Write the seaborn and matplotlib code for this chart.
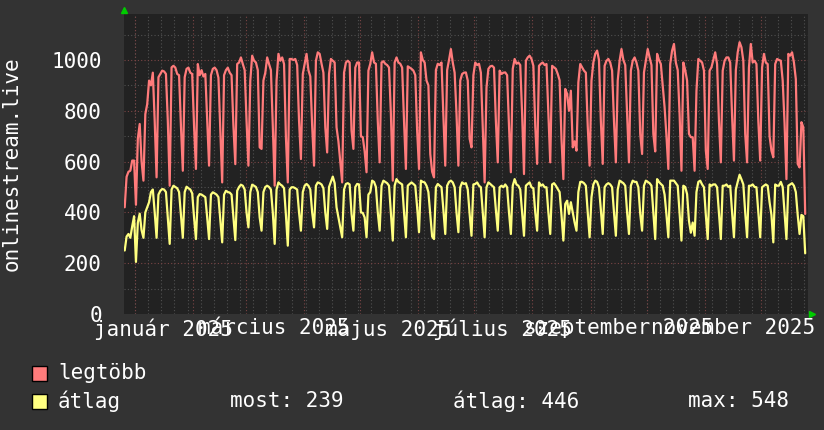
import pandas as pd
import matplotlib
matplotlib.use("Agg")
import matplotlib.pyplot as plt
import seaborn as sns

# daily values, 2024-12-26 .. 2025-12-24 (weeks run Mon..Sun)
legtobb = [
    420, 540, 560, 564,
    604, 604, 430, 690, 748, 600, 525,
    787, 826, 919, 900, 950, 760, 538,
    932, 945, 958, 955, 945, 760, 505,
    971, 977, 970, 945, 940, 740, 564,
    932, 965, 970, 950, 945, 740, 571,
    984, 940, 960, 935, 945, 760, 584,
    940, 965, 970, 960, 930, 720, 518,
    940, 960, 970, 950, 940, 740, 590,
    984, 990, 1010, 984, 960, 760, 584,
    919, 1017, 997, 990, 960, 656, 650,
    919, 950, 1010, 984, 960, 740, 505,
    919, 1024, 997, 1010, 984, 696, 518,
    1004, 1004, 1000, 1004, 980, 760, 610,
    945, 984, 1024, 960, 935, 740, 584,
    997, 1030, 1024, 985, 950, 735, 636,
    945, 1004, 997, 990, 735, 680, 600,
    518, 950, 990, 997, 990, 722, 650,
    970, 990, 990, 700, 696, 640, 558,
    958, 985, 1030, 990, 985, 760, 597,
    990, 995, 985, 980, 970, 787, 525,
    990, 1010, 990, 985, 970, 760, 571,
    975, 970, 965, 958, 940, 722, 571,
    1030, 1000, 990, 919, 900, 630, 560,
    538, 960, 985, 980, 990, 780, 584,
    960, 1000, 1043, 990, 950, 787, 584,
    919, 945, 950, 951, 919, 690, 656,
    940, 990, 980, 985, 950, 730, 518,
    892, 965, 975, 977, 970, 760, 597,
    958, 945, 950, 951, 940, 740, 558,
    965, 1004, 985, 990, 980, 787, 551,
    997, 1010, 1017, 1004, 977, 740, 591,
    977, 985, 990, 980, 984, 787, 597,
    977, 971, 965, 945, 920, 690, 531,
    886, 866, 800, 879, 656, 680, 643,
    912, 984, 971, 958, 950, 740, 584,
    919, 990, 1024, 1037, 1000, 760, 591,
    977, 997, 1004, 990, 958, 760, 597,
    919, 997, 1043, 1000, 980, 787, 597,
    958, 997, 1010, 990, 958, 709, 630,
    951, 997, 1043, 1010, 980, 709, 640,
    1024, 1000, 984, 900, 814, 700, 571,
    984, 1037, 1063, 990, 960, 787, 564,
    990, 960, 919, 709, 696, 696, 564,
    879, 1004, 997, 990, 958, 643, 571,
    958, 971, 1000, 1030, 984, 760, 597,
    958, 997, 1010, 1010, 990, 780, 604,
    960, 1030, 1070, 1050, 997, 709, 597,
    970, 1063, 990, 997, 984, 760, 604,
    970, 1024, 990, 984, 700, 643, 617,
    984, 1004, 1000, 997, 919, 750, 531,
    1024, 1017, 1030, 990, 925, 591, 577,
    755, 735, 394,
]

atlag = [
    250, 305, 315, 300,
    345, 385, 205, 360, 395, 330, 300,
    400, 420, 440, 480, 490, 400, 300,
    470, 485, 492, 490, 480, 380, 276,
    490, 505, 500, 495, 480, 390, 300,
    480, 501, 495, 490, 475, 380, 295,
    460, 472, 470, 465, 460, 380, 295,
    470, 479, 475, 470, 460, 370, 282,
    470, 485, 480, 478, 470, 380, 291,
    485, 500, 509, 505, 490, 400, 341,
    480, 509, 505, 500, 480, 380, 328,
    480, 500, 505, 500, 490, 400, 276,
    490, 518, 510, 505, 495, 390, 269,
    490, 499, 499, 495, 490, 400, 328,
    480, 505, 512, 505, 490, 400, 341,
    505, 518, 515, 510, 495, 400, 335,
    500, 520, 541, 515, 420, 380, 340,
    302, 490, 512, 515, 510, 394, 328,
    500, 512, 510, 400, 398, 380, 302,
    470, 480, 525, 520, 500, 400, 328,
    505, 525, 520, 515, 505, 400, 289,
    505, 531, 520, 515, 510, 400, 302,
    505, 512, 518, 512, 505, 420, 322,
    525, 520, 518, 505, 480, 394, 305,
    295, 499, 512, 505, 499, 410, 315,
    505, 520, 525, 518, 499, 400, 322,
    499, 518, 512, 515, 490, 394, 308,
    510, 512, 518, 505, 499, 400, 302,
    499, 518, 512, 505, 499, 410, 328,
    499, 505, 499, 510, 499, 400, 315,
    505, 531, 510, 505, 490, 400, 308,
    505, 512, 518, 499, 495, 400, 328,
    518, 505, 510, 499, 499, 400, 315,
    510, 515, 505, 492, 480, 390, 289,
    433, 446, 394, 440, 400, 360, 328,
    480, 520, 520, 515, 505, 400, 302,
    460, 510, 525, 520, 499, 410, 315,
    499, 510, 515, 510, 499, 400, 308,
    490, 525, 520, 515, 505, 400, 315,
    505, 525, 520, 520, 499, 395, 328,
    505, 525, 520, 515, 505, 400, 295,
    531, 520, 512, 505, 470, 390, 302,
    525, 525, 525, 515, 505, 400, 289,
    505, 500, 472, 367, 320, 360, 308,
    480, 520, 525, 510, 499, 390, 295,
    510, 505, 510, 510, 499, 395, 295,
    505, 505, 510, 500, 505, 400, 302,
    490, 520, 548, 530, 510, 400, 302,
    505, 505, 510, 500, 499, 400, 302,
    499, 505, 510, 505, 440, 390, 282,
    510, 505, 505, 520, 500, 400, 295,
    505, 510, 515, 505, 480, 390, 315,
    390, 385, 239,
]

month_labels = ["január 2025", "március 2025", "május 2025",
                "július 2025", "szeptember 2025", "november 2025"]
label_dates = ["2025-01-16", "2025-03-16", "2025-05-16",
               "2025-07-16", "2025-09-16", "2025-11-16"]
legend_stats = ["most: 239", "átlag: 446", "max: 548"]

dates = pd.date_range("2024-12-26 12:00", periods=len(legtobb), freq="D")
df = pd.DataFrame({"date": dates, "legtöbb": legtobb, "átlag": atlag})

BG = "#333333"
PLOT_BG = "#222222"
RED = "#ff7b7b"
YEL = "#ffff80"
MONO = ["DejaVu Sans Mono"]

sns.set_style("dark")
plt.rcParams["font.family"] = MONO

fig = plt.figure(figsize=(8.24, 4.30), dpi=100, facecolor=BG)
ax = fig.add_axes([124 / 824, 1 - 314 / 430, 684 / 824, 300 / 430])
ax.set_facecolor(PLOT_BG)

xmin = pd.Timestamp("2024-12-26 03:00")
xmax = pd.Timestamp("2025-12-26 00:00")

# grid: weekly / monthly verticals, 100 / 200 horizontals
for d in pd.date_range("2024-12-25", "2025-12-31", freq="W-WED"):
    ax.axvline(d, color="#505050", lw=0.8, ls=(0, (1, 2)), zorder=0)
for d in pd.date_range("2025-01-01", "2025-12-01", freq="MS"):
    ax.axvline(d, color="#7a4545", lw=0.8, ls=(0, (1, 2)), zorder=0)
for v in range(100, 1200, 200):
    ax.axhline(v, color="#505050", lw=0.8, ls=(0, (1, 2)), zorder=0)
for v in range(200, 1200, 200):
    ax.axhline(v, color="#7a4545", lw=0.8, ls=(0, (1, 2)), zorder=0)

sns.lineplot(data=df, x="date", y="legtöbb", color=RED, lw=1.6, ax=ax, zorder=3)
sns.lineplot(data=df, x="date", y="átlag", color=YEL, lw=1.6, ax=ax, zorder=3)

ax.set_xlim(xmin, xmax)
ax.set_ylim(0, 1181)
ax.set_yticks(range(0, 1001, 200))
ax.set_yticklabels([str(v) for v in range(0, 1001, 200)])
ax.set_xticks(pd.to_datetime(label_dates))
ax.set_xticklabels(month_labels)
ax.tick_params(axis="both", colors="white", labelsize=15, length=0)
ax.tick_params(axis="y", pad=16)
ax.tick_params(axis="x", pad=3)
ax.set_xlabel("")
ax.set_ylabel("")
ax.grid(False)
for s in ax.spines.values():
    s.set_visible(False)

fig.text(12 / 824, 1 - 164 / 430, "onlinestream.live", rotation=90,
         color="white", fontsize=15, ha="center", va="center")

# arrows on the axes
fig.add_artist(plt.Line2D([124 / 824], [1 - 10 / 430], marker="^", color="#00cc00",
                          markersize=5, transform=fig.transFigure))
fig.add_artist(plt.Line2D([812 / 824], [1 - 314 / 430], marker=">", color="#00cc00",
                          markersize=5, transform=fig.transFigure))

# legend
for col, ypx, name in [(RED, 373, "legtöbb"), (YEL, 401, "átlag")]:
    fig.patches.append(plt.Rectangle((32 / 824, 1 - (ypx + 8) / 430), 15 / 824, 15 / 430,
                                     facecolor=col, edgecolor="black", lw=1,
                                     transform=fig.transFigure))
    fig.text(58 / 824, 1 - ypx / 430, name, color="white", fontsize=15, va="center")
for xpx, txt in zip([230, 453, 688], legend_stats):
    fig.text(xpx / 824, 1 - 401 / 430, txt, color="white", fontsize=15, va="center")

plt.savefig("out.png", dpi=100, facecolor=BG)
plt.close()
